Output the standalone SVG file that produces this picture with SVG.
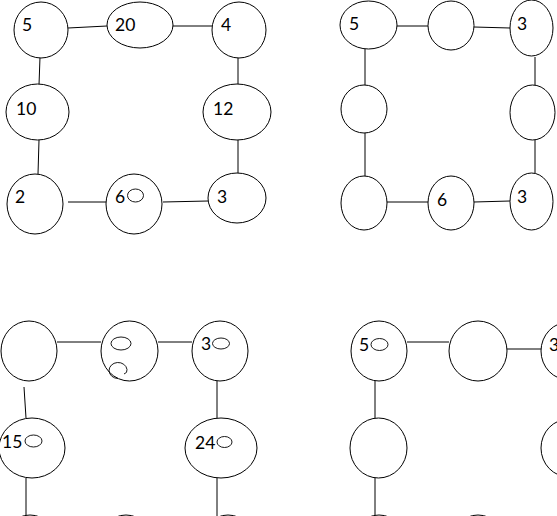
<svg xmlns="http://www.w3.org/2000/svg" width="557" height="516" viewBox="0 0 557 516">
<style>
.n{fill:#fff;stroke:#000;stroke-width:1}
.s{fill:none;stroke:#000;stroke-width:0.9}
.e line,.e path{stroke:#000;stroke-width:1;fill:none}
text{font-family:Lato,"Liberation Sans",sans-serif;font-size:17.5px;fill:#000}
</style>
<rect width="557" height="516" fill="#fff"/>
<g class="e" id="connectors">
<line x1="68" y1="28" x2="107" y2="26"/>
<line x1="173" y1="26" x2="212" y2="26"/>
<line x1="40" y1="57" x2="39" y2="85"/>
<line x1="238" y1="57" x2="238" y2="85"/>
<line x1="39" y1="140" x2="38" y2="174"/>
<line x1="238" y1="140" x2="238" y2="174"/>
<line x1="68" y1="202" x2="106" y2="202"/>
<line x1="163" y1="202" x2="208" y2="201"/>
<line x1="397" y1="26" x2="428" y2="26"/>
<line x1="474" y1="27" x2="510" y2="28"/>
<line x1="365" y1="49" x2="365" y2="85"/>
<line x1="535" y1="57" x2="535" y2="85"/>
<line x1="365" y1="133" x2="365" y2="176"/>
<line x1="535" y1="140" x2="535" y2="173"/>
<line x1="387" y1="202" x2="428" y2="202"/>
<line x1="474" y1="202" x2="510" y2="201"/>
<line x1="57" y1="342" x2="101" y2="342"/>
<line x1="158" y1="342" x2="192" y2="342"/>
<line x1="24" y1="387" x2="26" y2="418"/>
<line x1="26" y1="478" x2="26" y2="516"/>
<line x1="217" y1="381" x2="217" y2="418"/>
<line x1="217" y1="478" x2="217" y2="516"/>
<line x1="407" y1="342" x2="449" y2="342"/>
<line x1="507" y1="349" x2="541" y2="349"/>
<line x1="375" y1="381" x2="375" y2="418"/>
<line x1="375" y1="478" x2="375" y2="516"/>
</g>
<g id="tl-5"><ellipse class="n" cx="41" cy="30" rx="27" ry="28"/><text x="22" y="31">5</text></g>
<g id="tl-20"><ellipse class="n" cx="140" cy="25" rx="33" ry="23"/><text x="115" y="31">20</text></g>
<g id="tl-4"><ellipse class="n" cx="239" cy="30" rx="27" ry="28"/><text x="221" y="31">4</text></g>
<g id="tl-10"><ellipse class="n" cx="37.5" cy="112" rx="31.5" ry="28"/><text x="16" y="115">10</text></g>
<g id="tl-12"><ellipse class="n" cx="237" cy="112" rx="34" ry="28"/><text x="213" y="115">12</text></g>
<g id="tl-2"><ellipse class="n" cx="35" cy="204" rx="28" ry="30"/><text x="15" y="203">2</text></g>
<g id="tl-6"><ellipse class="n" cx="134" cy="204" rx="28" ry="30"/><text x="115" y="203">6</text><ellipse class="s" cx="135.5" cy="195.5" rx="8" ry="6.5"/></g>
<g id="tl-3"><ellipse class="n" cx="237" cy="198" rx="29" ry="25"/><text x="217" y="203">3</text></g>

<g id="tr-5"><ellipse class="n" cx="368.5" cy="25" rx="28.5" ry="24"/><text x="349" y="30">5</text></g>
<g id="tr-top"><ellipse class="n" cx="451" cy="25.5" rx="23" ry="24.5"/></g>
<g id="tr-3a"><ellipse class="n" cx="531.5" cy="28" rx="21.5" ry="28"/><text x="517" y="30">3</text></g>
<g id="tr-left"><ellipse class="n" cx="364" cy="109" rx="23" ry="24"/></g>
<g id="tr-right"><ellipse class="n" cx="532.5" cy="112.5" rx="22.5" ry="27.5"/></g>
<g id="tr-bl"><ellipse class="n" cx="364" cy="203" rx="23" ry="27"/></g>
<g id="tr-6"><ellipse class="n" cx="451" cy="203" rx="23" ry="27"/><text x="437" y="206">6</text></g>
<g id="tr-3b"><ellipse class="n" cx="531.5" cy="201.5" rx="21.5" ry="28.5"/><text x="517" y="203">3</text></g>

<g id="bl-tl"><ellipse class="n" cx="29" cy="351" rx="28" ry="30"/></g>
<g id="bl-mid"><ellipse class="n" cx="129.5" cy="351" rx="28.5" ry="30"/><ellipse class="s" cx="121" cy="343.5" rx="10" ry="6.5"/><path class="s" d="M118 378.5 A9 8 0 1 1 127 369.5 Q127.5 373 124 374"/></g>
<g id="bl-3"><ellipse class="n" cx="220" cy="351" rx="28" ry="30"/><text x="201" y="350">3</text><ellipse class="s" cx="221" cy="343.5" rx="8.5" ry="5.5"/></g>
<g id="bl-15"><ellipse class="n" cx="32" cy="448" rx="33" ry="30"/><text x="2" y="448">15</text><ellipse class="s" cx="33.5" cy="441" rx="8.5" ry="6"/></g>
<g id="bl-24"><ellipse class="n" cx="221" cy="448" rx="36" ry="30"/><text x="195" y="449">24</text><ellipse class="s" cx="224.5" cy="442" rx="7.5" ry="5.5"/></g>
<g id="bl-b1"><ellipse class="n" cx="30" cy="545" rx="28" ry="30"/></g>
<g id="bl-b2"><ellipse class="n" cx="126" cy="545" rx="28" ry="30"/></g>
<g id="bl-b3"><ellipse class="n" cx="228" cy="545" rx="28" ry="30"/></g>

<g id="br-5"><ellipse class="n" cx="379" cy="351" rx="28" ry="30"/><text x="359" y="351">5</text><ellipse class="s" cx="379.5" cy="344.5" rx="8.5" ry="6"/></g>
<g id="br-mid"><ellipse class="n" cx="478" cy="351" rx="29" ry="30"/></g>
<g id="br-3"><ellipse class="n" cx="569" cy="351" rx="28" ry="29"/><text x="549" y="351">3</text></g>
<g id="br-left"><ellipse class="n" cx="378.5" cy="448" rx="28.5" ry="30"/></g>
<g id="br-right"><ellipse class="n" cx="569" cy="448" rx="28" ry="29"/></g>
<g id="br-b1"><ellipse class="n" cx="379" cy="545" rx="28" ry="30"/></g>
<g id="br-b2"><ellipse class="n" cx="478" cy="545" rx="28" ry="30"/></g>
</svg>
